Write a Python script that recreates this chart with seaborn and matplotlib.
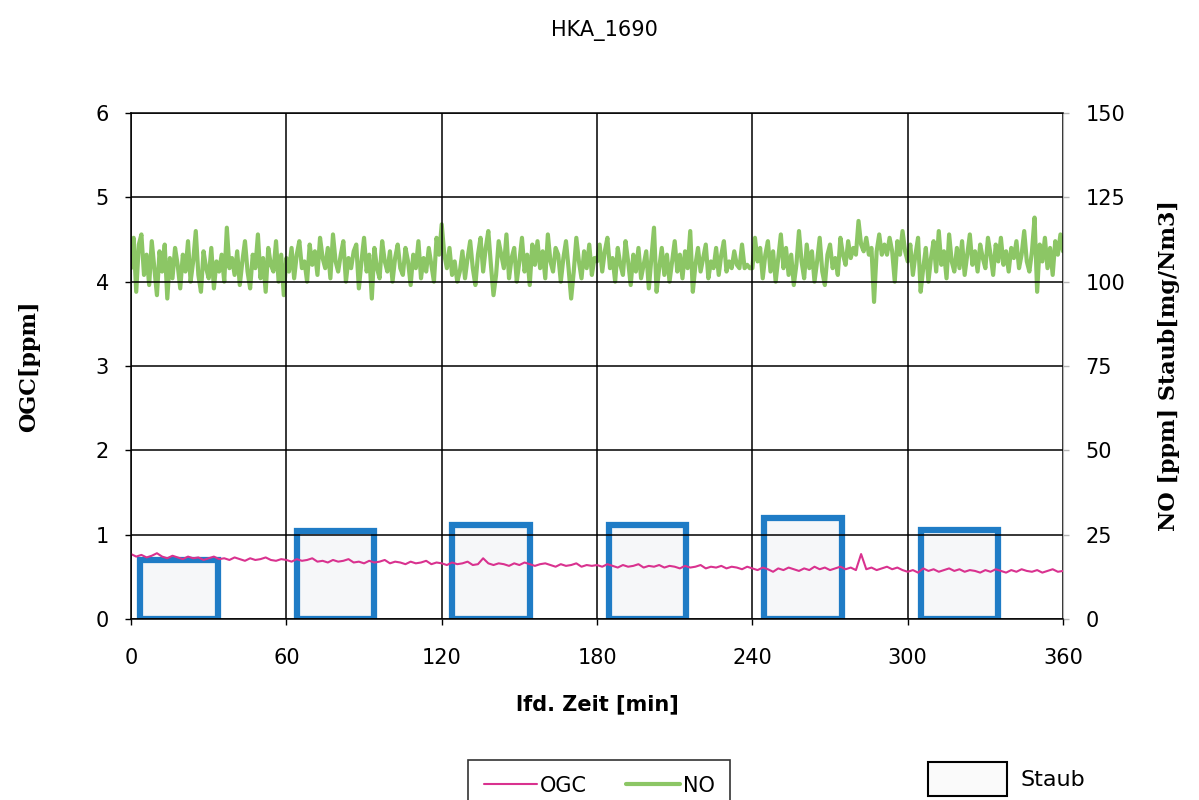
# HKA_1690 - OGC, NO und Staub ueber der Zeit
import numpy as np
import matplotlib
matplotlib.use("Agg")
import matplotlib.pyplot as plt
import seaborn as sns
from matplotlib.lines import Line2D
from matplotlib.patches import Patch

# NO [ppm], one value per minute (0..360)
no_ppm = [
    104, 113, 97, 111, 114, 102, 108, 99, 112, 104, 96, 109, 103, 111, 95, 107, 101, 110, 105, 98,
    108, 103, 112, 100, 106, 115, 102, 97, 109, 104, 101, 110, 98, 106, 103, 108, 100, 116, 104, 107,
    102, 109, 99, 106, 112, 103, 98, 108, 104, 114, 101, 107, 97, 110, 105, 103, 112, 100, 108, 96,
    107, 103, 110, 101, 108, 112, 104, 106, 100, 111, 105, 109, 102, 113, 107, 104, 110, 101, 114, 106,
    103, 108, 112, 100, 107, 104, 109, 111, 98, 106, 113, 103, 108, 95, 110, 104, 101, 112, 106, 103,
    109, 100, 107, 111, 104, 102, 110, 106, 99, 108, 104, 112, 101, 107, 103, 110, 105, 100, 113, 108,
    117, 108, 104, 110, 102, 106, 100, 103, 109, 101, 107, 112, 104, 99, 108, 113, 103, 110, 115, 105,
    96, 102, 112, 108, 104, 114, 101, 107, 110, 100, 106, 113, 103, 108, 99, 111, 105, 112, 104, 109,
    101, 114, 106, 103, 110, 108, 100, 107, 112, 104, 95, 103, 113, 106, 101, 109, 104, 111, 102, 107,
    106, 111, 103, 109, 113, 104, 107, 100, 110, 105, 102, 112, 106, 99, 108, 103, 110, 101, 105, 109,
    98, 107, 116, 97, 104, 110, 102, 108, 100, 106, 112, 103, 108, 101, 109, 104, 115, 97, 105, 110,
    103, 107, 111, 101, 106, 104, 110, 102, 108, 112, 103, 106, 104, 109, 105, 104, 111, 104, 105, 104,
    104, 113, 106, 110, 101, 108, 112, 103, 109, 100, 107, 114, 104, 110, 102, 108, 99, 105, 115, 106,
    101, 111, 104, 109, 100, 106, 113, 103, 99, 108, 111, 104, 107, 102, 113, 108, 105, 112, 107, 110,
    108, 118, 111, 109, 113, 108, 110, 94, 109, 114, 108, 111, 108, 113, 109, 100, 112, 108, 115, 109,
    106, 111, 102, 108, 113, 97, 104, 110, 100, 107, 112, 103, 115, 105, 109, 101, 114, 106, 103, 110,
    104, 112, 102, 108, 114, 105, 109, 103, 111, 107, 104, 113, 108, 102, 111, 106, 113, 105, 109, 103,
    110, 107, 112, 104, 108, 115, 106, 103, 109, 119, 97, 111, 106, 113, 104, 110, 102, 112, 108, 114,
    109,
]

# OGC [ppm], every 2 minutes (0..360)
ogc_ppm = [
    0.77, 0.74, 0.76, 0.73, 0.75, 0.78, 0.74, 0.72, 0.75, 0.73, 0.71, 0.74, 0.72, 0.73, 0.70,
    0.72, 0.74, 0.71, 0.72, 0.70, 0.73, 0.71, 0.69, 0.72, 0.70, 0.71, 0.73, 0.70, 0.69, 0.71,
    0.70, 0.68, 0.71, 0.69, 0.70, 0.72, 0.68, 0.69, 0.67, 0.70, 0.68, 0.69, 0.71, 0.67, 0.68,
    0.66, 0.69, 0.67, 0.68, 0.70, 0.66, 0.68, 0.67, 0.65, 0.68, 0.66, 0.67, 0.69, 0.65, 0.67,
    0.66, 0.64, 0.67, 0.65, 0.66, 0.68, 0.64, 0.65, 0.72, 0.66, 0.64, 0.66, 0.65, 0.63, 0.66,
    0.64, 0.67, 0.65, 0.63, 0.65, 0.66, 0.64, 0.62, 0.65, 0.63, 0.64, 0.66, 0.62, 0.64, 0.63,
    0.64, 0.62, 0.65, 0.63, 0.61, 0.64, 0.62, 0.63, 0.65, 0.61, 0.63, 0.62, 0.64, 0.61, 0.63,
    0.62, 0.60, 0.63, 0.61, 0.62, 0.64, 0.60, 0.62, 0.61, 0.63, 0.60, 0.62, 0.61, 0.59, 0.62,
    0.60, 0.58, 0.61, 0.59, 0.56, 0.60, 0.58, 0.61, 0.59, 0.57, 0.60, 0.58, 0.62, 0.59, 0.61,
    0.58, 0.60, 0.62, 0.59, 0.61, 0.58, 0.77, 0.59, 0.61, 0.58, 0.60, 0.62, 0.59, 0.61, 0.58,
    0.56, 0.58, 0.55, 0.60, 0.57, 0.59, 0.56, 0.58, 0.60, 0.57, 0.59, 0.56, 0.58, 0.57, 0.55,
    0.58, 0.56, 0.59, 0.57, 0.55, 0.58, 0.56, 0.59, 0.57, 0.56, 0.58, 0.55, 0.57, 0.59, 0.56,
    0.57,
]

# Staub [mg/Nm3], one sample per hour
staub_t = [18.5, 79, 139, 199.5, 259.5, 320]
staub = [17.5, 26, 27.8, 27.8, 30, 26.3]

x_ticks = [0, 60, 120, 180, 240, 300, 360]

t_no = np.linspace(0, 360, len(no_ppm))
t_ogc = np.linspace(0, 360, len(ogc_ppm))

sns.set_style("white")
plt.rcParams['font.family'] = ['DejaVu Sans']
plt.rcParams['text.color'] = 'black'
plt.rcParams['axes.labelcolor'] = 'black'
plt.rcParams['xtick.color'] = 'black'
plt.rcParams['ytick.color'] = 'black'

green = '#8cc665'
pink = '#d9328f'
blue = '#1f7cc6'
serif = ['DejaVu Serif']

fig = plt.figure(figsize=(11.99, 8), dpi=100)
ax = fig.add_axes([0.1093, 0.22625, 0.7773, 0.6325])
ax2 = ax.twinx()

# left axis on top so pink line and grid sit over the bars
ax.set_zorder(ax2.get_zorder() + 1)
ax.patch.set_visible(False)

ax2.bar(staub_t, staub, width=30, facecolor='#f6f7f9', edgecolor=blue, linewidth=4.5, zorder=2)
sns.lineplot(x=t_no, y=no_ppm, ax=ax2, color=green, linewidth=3.0, zorder=1)
sns.lineplot(x=t_ogc, y=ogc_ppm, ax=ax, color=pink, linewidth=1.5)

ax.set_xlim(0, 360)
ax.set_ylim(0, 6)
ax2.set_ylim(0, 150)
ax.set_xticks(x_ticks)
ax.set_yticks(range(0, 7))
ax2.set_yticks(range(0, 151, 25))

ax.grid(True, color='black', linewidth=1.1)
ax2.grid(False)

for s in ['left', 'bottom', 'top']:
    ax.spines[s].set_color('black')
    ax.spines[s].set_linewidth(1.1)
ax.spines['right'].set_visible(False)
for s in ['left', 'bottom', 'top']:
    ax2.spines[s].set_visible(False)
ax2.spines['right'].set_color('#b5b5b5')

ax.tick_params(axis='x', bottom=True, length=4, width=1, pad=17, labelsize=15)
ax.tick_params(axis='y', left=True, length=4, width=1, pad=12, labelsize=15)
ax2.tick_params(axis='y', right=True, length=4, width=1, pad=12, labelsize=15, color='#b5b5b5')

ax.set_xlabel('lfd. Zeit [min]', fontsize=15, fontweight='bold', labelpad=19)
ax.set_ylabel('OGC[ppm]', fontsize=16, fontweight='bold', labelpad=40, family=serif)
ax2.set_ylabel('NO [ppm] Staub[mg/Nm3]', fontsize=16, fontweight='bold', labelpad=24,
               rotation=90, family=serif)

fig.text(0.504, 0.962, 'HKA_1690', ha='center', va='center', fontsize=15)

h_lines = [Line2D([], [], color=pink, linewidth=1.5),
           Line2D([], [], color=green, linewidth=3.0)]
leg1 = fig.legend(h_lines, ['OGC', 'NO'], loc='upper left', bbox_to_anchor=(0.3903, 0.05),
                  ncol=2, fontsize=15, frameon=True, fancybox=False, edgecolor='black',
                  handlelength=2.55, handletextpad=0.15, columnspacing=1.9, borderpad=0.75,
                  borderaxespad=0)
leg1.get_frame().set_linewidth(1.2)

h_staub = [Patch(facecolor='#fafafa', edgecolor='black', linewidth=1.5)]
fig.legend(h_staub, ['Staub'], loc='upper left', bbox_to_anchor=(0.774, 0.048),
           fontsize=16, frameon=False, handlelength=3.56, handleheight=2.0,
           handletextpad=0.6, borderpad=0, borderaxespad=0)

fig.savefig('out.png', dpi=100)
